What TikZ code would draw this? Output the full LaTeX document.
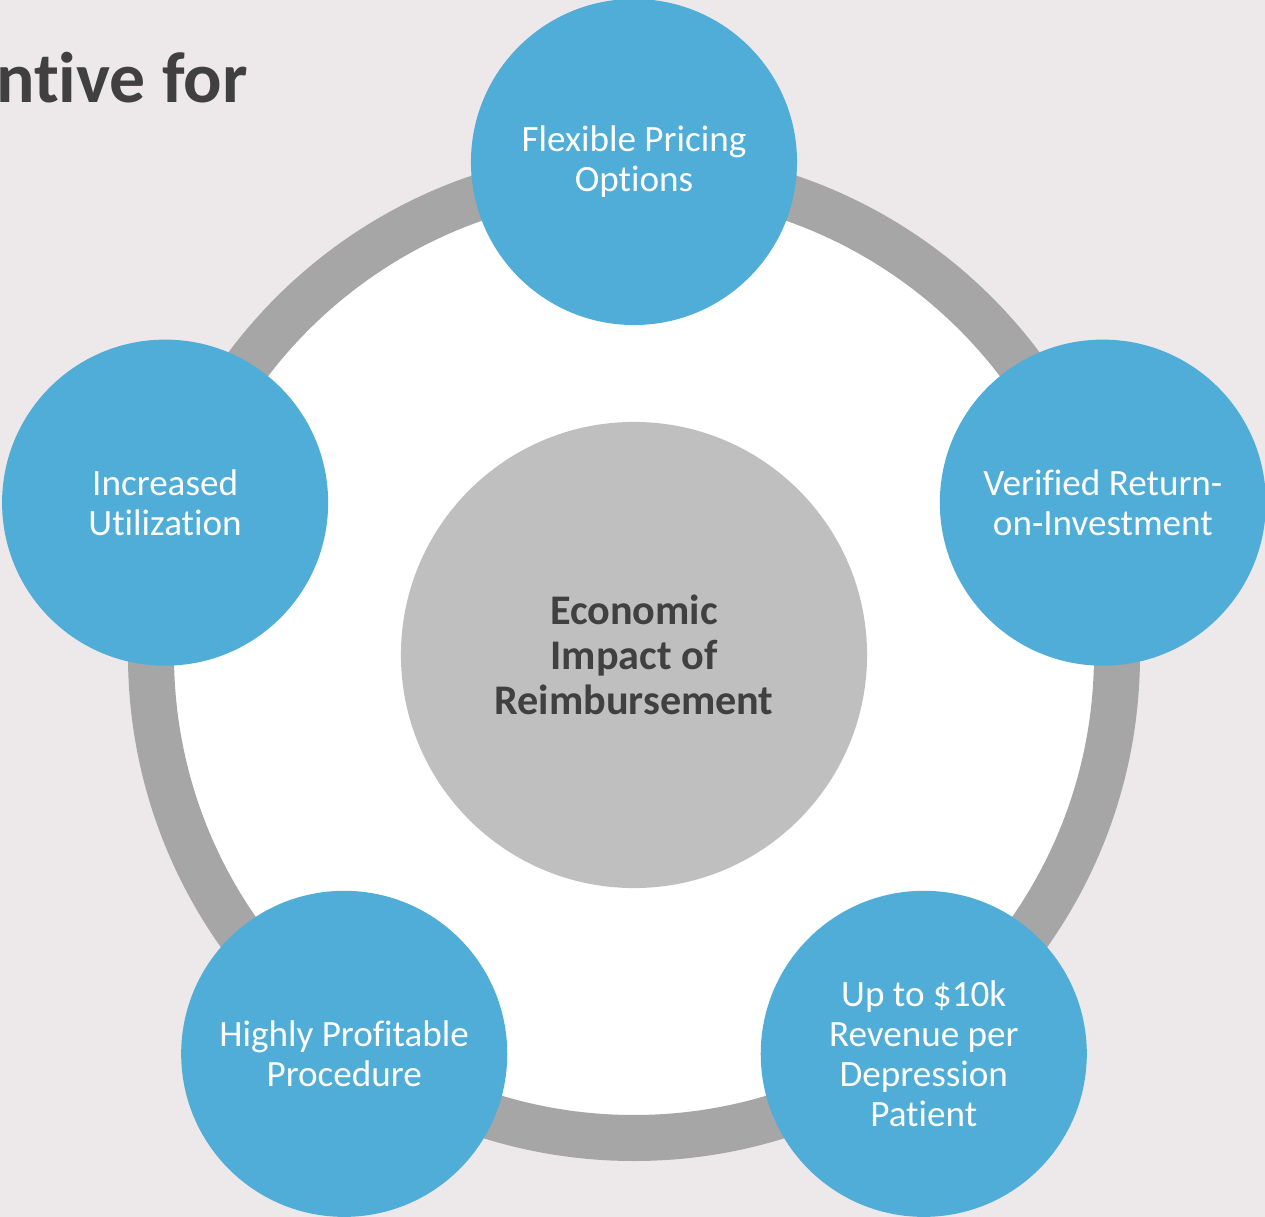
\documentclass[tikz,border=0pt]{standalone}
\usepackage{fontspec}
\setmainfont{Carlito}[RawFeature={-liga;-clig;-calt;-dlig}]
\usepackage{tikz}
\usetikzlibrary{
    positioning,
    calc
}
\definecolor{pagebg}{RGB}{237,233,234}
\definecolor{ringgray}{RGB}{166,166,166}
\definecolor{hubgray}{RGB}{191,191,191}
\definecolor{petalblue}{RGB}{79,173,216}
\definecolor{darktext}{RGB}{64,64,64}

\begin{document}
\begin{tikzpicture}[x=0.025cm, y=0.025cm,
    petal/.style={circle, fill=petalblue, draw=none, inner sep=0pt,
                  minimum size=8.15cm, text=white, align=center,
                  font=\fontsize{26.4}{28.5}\selectfont},
    hub/.style={circle, fill=hubgray, draw=none, inner sep=0pt,
                minimum size=11.65cm, text=darktext, align=center,
                font=\fontsize{30}{32}\selectfont\bfseries}]
    %% Page
    \fill[pagebg] (-634,655) rectangle (631,-562);
    \useasboundingbox (-634,655) rectangle (631,-562);

    %% Title (cut off at the left)
    \node[anchor=base east, inner sep=0pt, text=darktext,
          font=\fontsize{51}{60}\selectfont\bfseries]
          (title) at (-386,552) {ntive for};

    %% Ring
    \filldraw[fill=white, draw=ringgray, line width=1.15cm] (0,0) circle (483);

    %% Hub
    \node[hub] (impact) at (0,0) {Economic\\Impact of\\Reimbursement};

    %% Petals
    \node[petal] (pricing)     at (90:493)  {Flexible Pricing\\Options};
    \node[petal] (roi)         at (18:493)  {Verified Return-\\on-Investment};
    \node[petal] (revenue)     at (-54:493) {Up to \$10k\\Revenue per\\Depression\\Patient};
    \node[petal] (profit)      at (234:493) {Highly Profitable\\Procedure};
    \node[petal] (utilization) at (162:493) {Increased\\Utilization};
\end{tikzpicture}
\end{document}
